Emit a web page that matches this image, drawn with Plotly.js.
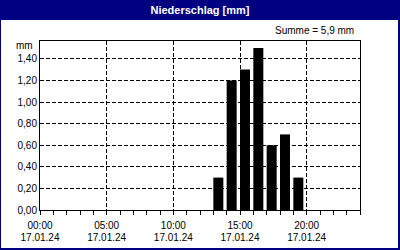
<!DOCTYPE html>
<html><head><meta charset="utf-8">
<script src="https://cdn.plot.ly/plotly-3.0.1.min.js"></script>
<style>html,body{margin:0;padding:0;background:#fff;}#chart{width:400px;height:250px;}</style>
</head><body><div id="chart"></div>
<script>
const times = ['2024-01-17 13:00','2024-01-17 14:00','2024-01-17 15:00','2024-01-17 16:00','2024-01-17 17:00','2024-01-17 18:00','2024-01-17 19:00'];
const values = [0.3, 1.2, 1.3, 1.5, 0.6, 0.7, 0.3];
const xTickVals = ['2024-01-17 00:00','2024-01-17 05:00','2024-01-17 10:00','2024-01-17 15:00','2024-01-17 20:00'];
const xTimeText = ['00:00','05:00','10:00','15:00','20:00'];
const xDateText = ['17.01.24','17.01.24','17.01.24','17.01.24','17.01.24'];
const yTickVals = [0, 0.2, 0.4, 0.6, 0.8, 1.0, 1.2, 1.4];
const yTickText = ['0,00','0,20','0,40','0,60','0,80','1,00','1,20','1,40'];
const titleText = 'Niederschlag [mm]';
const sumText = 'Summe = 5,9 mm';
const unitText = 'mm';

const W = 400, H = 250, L = 40, R = 40, T = 41, B = 40;
const pw = W - L - R, ph = H - T - B;
const px = x => (x - L) / pw;
const py = y => (H - B - y) / ph;
const font = 'Liberation Sans, Arial, sans-serif';
const navy = '#000080';
const xRange = ['2024-01-17 00:00', '2024-01-18 00:00'];

const trace = {
  type: 'bar', x: times, y: values,
  width: 0.75 * 3600000, offset: 0,
  marker: {color: '#000000', line: {width: 0}},
  hoverinfo: 'skip'
};
// invisible helper trace so the second (date-label) axis is drawn
const helper = {type: 'scatter', mode: 'markers', x: [xRange[0]], y: [0], xaxis: 'x2', yaxis: 'y',
  marker: {opacity: 0, size: 1}, hoverinfo: 'skip'};

const layout = {
  width: W, height: H,
  margin: {l: L, r: R, t: T, b: B, pad: 0},
  paper_bgcolor: navy, plot_bgcolor: '#ffffff',
  font: {family: font, size: 10, color: '#000'},
  showlegend: false,
  title: {text: '<b>' + titleText + '</b>', font: {family: font, size: 11, color: '#ffffff'},
          x: 0.5, xanchor: 'center', xref: 'paper', y: 1 - 10.5 / H, yanchor: 'middle', yref: 'container'},
  xaxis: {
    type: 'date', range: xRange,
    tickmode: 'array', tickvals: xTickVals, ticktext: xTimeText,
    ticks: 'outside', ticklen: 4, tickcolor: '#000', tickwidth: 1, ticklabelstandoff: 2,
    minor: {ticks: 'outside', ticklen: 4, tickcolor: '#000', dtick: 3600000, tick0: '2024-01-17 00:00', showgrid: false},
    showgrid: true, gridcolor: '#000', gridwidth: 1, griddash: '4px,2px',
    showline: true, linecolor: '#000', linewidth: 1, mirror: true,
    zeroline: false, fixedrange: true,
    tickfont: {family: font, size: 10, color: '#000'}
  },
  xaxis2: {
    type: 'date', range: xRange, overlaying: 'x', anchor: 'y', side: 'bottom',
    tickmode: 'array', tickvals: xTickVals, ticktext: xDateText,
    ticks: '', ticklabelstandoff: 20,
    showgrid: false, showline: false, zeroline: false, fixedrange: true,
    tickfont: {family: font, size: 10, color: '#000'}
  },
  yaxis: {
    range: [0, 1.565],
    tickmode: 'array', tickvals: yTickVals, ticktext: yTickText,
    ticks: '', showgrid: true, gridcolor: '#000', gridwidth: 1, griddash: '4px,2px',
    showline: true, linecolor: '#000', linewidth: 1, mirror: true,
    zeroline: false, fixedrange: true,
    tickfont: {family: font, size: 10, color: '#000'}
  },
  shapes: [
    {type: 'rect', xref: 'paper', yref: 'paper', layer: 'below',
     x0: px(1), x1: px(398), y0: py(248), y1: py(20),
     fillcolor: '#ffffff', line: {width: 0}}
  ],
  annotations: [
    {text: sumText, xref: 'paper', yref: 'paper', x: px(356), y: py(31), xanchor: 'right', yanchor: 'middle',
     showarrow: false, font: {family: font, size: 10, color: '#000'}},
    {text: unitText, xref: 'paper', yref: 'paper', x: px(24), y: py(45), xanchor: 'center', yanchor: 'middle',
     showarrow: false, font: {family: font, size: 10, color: '#000'}}
  ]
};

Plotly.newPlot('chart', [trace, helper], layout, {staticPlot: true, displayModeBar: false});
</script></body></html>
